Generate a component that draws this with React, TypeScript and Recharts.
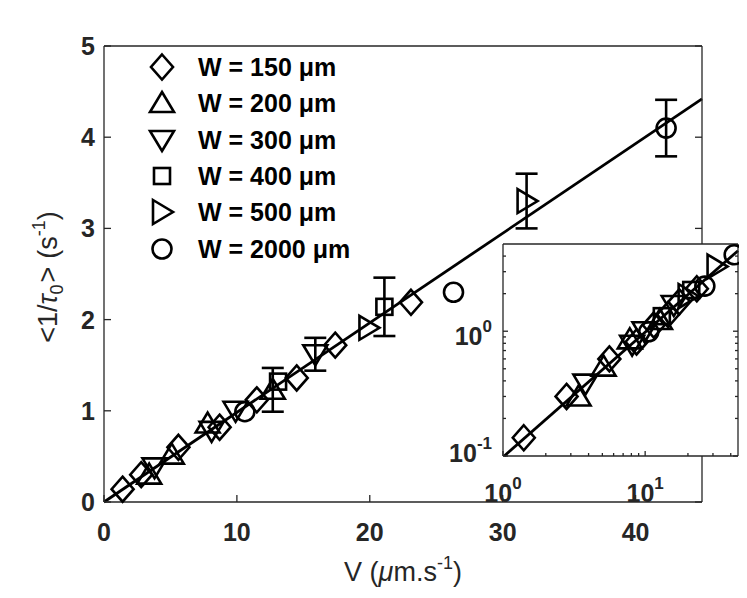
import React from "react";
import {
  ComposedChart,
  Scatter,
  Line,
  XAxis,
  YAxis,
  ErrorBar,
  CartesianGrid,
  Legend,
} from "recharts";

// V (um/s) and <1/tau0> (1/s) for each channel width
const w150V = [1.4, 2.8, 5.6, 8.7, 11.5, 14.5, 17.4, 23.1];
const w150Rate = [0.14, 0.3, 0.6, 0.82, 1.12, 1.36, 1.72, 2.19];
const w150Err = [null, null, null, null, null, null, null, null];

const w200V = [3.4, 5.1, 7.8, 12.7];
const w200Rate = [0.3, 0.52, 0.86, 1.23];
const w200Err = [null, null, null, 0.24];

const w300V = [3.8, 8.1, 9.9, 15.9];
const w300Rate = [0.38, 0.78, 1.0, 1.62];
const w300Err = [null, null, null, 0.18];

const w400V = [13.1, 21.1];
const w400Rate = [1.32, 2.14];
const w400Err = [null, 0.32];

const w500V = [19.9, 31.8];
const w500Rate = [1.91, 3.3];
const w500Err = [null, 0.3];

const w2000V = [10.6, 26.3, 42.3];
const w2000Rate = [0.99, 2.3, 4.1];
const w2000Err = [null, null, 0.31];

// linear fit through the origin
const fitV = [0, 45];
const fitRate = [0, 4.42];
const insetFitV = [1.02, 45];
const insetFitRate = [0.1, 4.42];

const mainVTicks = [0, 10, 20, 30, 40];
const mainRateTicks = [0, 1, 2, 3, 4, 5];
const insetVTicks = [1, 2, 3, 4, 5, 6, 7, 8, 9, 10, 20, 30, 40];
const insetRateTicks = [0.1, 0.2, 0.3, 0.4, 0.5, 0.6, 0.7, 0.8, 0.9, 1, 2, 3, 4];

type Kind = "diamond" | "up" | "down" | "square" | "right" | "circle";

const series: { name: string; kind: Kind; v: number[]; rate: number[]; err: (number | null)[] }[] = [
  { name: "W = 150 μm", kind: "diamond", v: w150V, rate: w150Rate, err: w150Err },
  { name: "W = 200 μm", kind: "up", v: w200V, rate: w200Rate, err: w200Err },
  { name: "W = 300 μm", kind: "down", v: w300V, rate: w300Rate, err: w300Err },
  { name: "W = 400 μm", kind: "square", v: w400V, rate: w400Rate, err: w400Err },
  { name: "W = 500 μm", kind: "right", v: w500V, rate: w500Rate, err: w500Err },
  { name: "W = 2000 μm", kind: "circle", v: w2000V, rate: w2000Rate, err: w2000Err },
];

const rowsOf = (v: number[], rate: number[], err?: (number | null)[]) =>
  v.map((x, i) => ({ v: x, rate: rate[i], err: err ? err[i] : null }));

const fitRows = rowsOf(fitV, fitRate);
const insetFitRows = rowsOf(insetFitV, insetFitRate);

const AXIS = "#262626";
const FONT = "'Liberation Sans', Arial, Helvetica, sans-serif";
const AXW = 1.3;

function Marker({ kind, cx, cy }: { kind: Kind; cx: number; cy: number }) {
  const st = { fill: "none", stroke: "#000", strokeWidth: 2.6 };
  if (kind === "circle") return <circle cx={cx} cy={cy} r={9.5} {...st} />;
  if (kind === "square") return <rect x={cx - 8} y={cy - 8} width={16} height={16} {...st} />;
  let pts: number[][];
  if (kind === "diamond") pts = [[0, -12.5], [11, 0], [0, 12.5], [-11, 0]];
  else if (kind === "up") pts = [[0, -11], [12, 9], [-12, 9]];
  else if (kind === "down") pts = [[0, 11], [12, -9], [-12, -9]];
  else pts = [[-9, -12], [11, 0], [-9, 12]];
  return <polygon points={pts.map(([dx, dy]) => `${cx + dx},${cy + dy}`).join(" ")} {...st} />;
}

const tickText = { fontFamily: FONT, fontWeight: "bold" as const, fontSize: 25, fill: AXIS };

function BottomTick(p: any) {
  const { x, y, payload } = p;
  return (
    <g>
      <line x1={x} y1={y} x2={x} y2={y - 7} stroke={AXIS} strokeWidth={AXW} />
      <text x={x} y={y + 39} textAnchor="middle" {...tickText}>
        {payload.value}
      </text>
    </g>
  );
}

function TopTick(p: any) {
  const { x, y } = p;
  return <line x1={x} y1={y} x2={x} y2={y + 7} stroke={AXIS} strokeWidth={AXW} />;
}

function LeftTick(p: any) {
  const { x, y, payload } = p;
  return (
    <g>
      <line x1={x} y1={y} x2={x + 7} y2={y} stroke={AXIS} strokeWidth={AXW} />
      <text x={x - 9} y={y + 9} textAnchor="end" {...tickText}>
        {payload.value}
      </text>
    </g>
  );
}

function RightTick(p: any) {
  const { x, y } = p;
  return <line x1={x} y1={y} x2={x - 7} y2={y} stroke={AXIS} strokeWidth={AXW} />;
}

const decade = (v: number) => Math.abs(Math.log10(v) - Math.round(Math.log10(v))) < 1e-6;

function InsetBottomTick(p: any) {
  const { x, y, payload } = p;
  const major = decade(payload.value);
  return (
    <g>
      <line x1={x} y1={y} x2={x} y2={y - (major ? 5 : 3)} stroke={AXIS} strokeWidth={AXW} />
      {major && (
        <text x={x} y={y + 46} textAnchor="middle" {...tickText}>
          10
          <tspan fontSize={17} dy={-13}>
            {Math.round(Math.log10(payload.value))}
          </tspan>
        </text>
      )}
    </g>
  );
}

function InsetTopTick(p: any) {
  const { x, y, payload } = p;
  const major = decade(payload.value);
  return <line x1={x} y1={y} x2={x} y2={y + (major ? 5 : 3)} stroke={AXIS} strokeWidth={AXW} />;
}

function InsetLeftTick(p: any) {
  const { x, y, payload } = p;
  const major = decade(payload.value);
  const e = Math.round(Math.log10(payload.value));
  return (
    <g>
      <line x1={x} y1={y} x2={x + (major ? 5 : 3)} y2={y} stroke={AXIS} strokeWidth={AXW} />
      {major && (
        <text x={x - 11} y={y + (e === 0 ? 14 : 6)} textAnchor="end" {...tickText}>
          10
          <tspan fontSize={17} dy={-13}>
            {e}
          </tspan>
        </text>
      )}
    </g>
  );
}

function InsetRightTick(p: any) {
  const { x, y, payload } = p;
  const major = decade(payload.value);
  return <line x1={x} y1={y} x2={x - (major ? 5 : 3)} y2={y} stroke={AXIS} strokeWidth={AXW} />;
}

const titleText = { fontFamily: FONT, fontSize: 27, fill: AXIS };

const XTitle = () => (
  <text x={395} y={573} textAnchor="middle" {...titleText}>
    V (<tspan fontStyle="italic">μ</tspan>m.s
    <tspan fontSize={18} dy={-12}>
      -1
    </tspan>
    <tspan dy={12}>)</tspan>
  </text>
);

const YTitle = () => (
  <text x={49} y={269} textAnchor="middle" transform="rotate(-90 49 269)" {...titleText}>
    {"<1/"}
    <tspan fontStyle="italic">τ</tspan>
    <tspan fontSize={18} dy={6}>
      0
    </tspan>
    <tspan dy={-6} dx={2}>
      {">"}
    </tspan>
    <tspan dx={8}>(s</tspan>
    <tspan fontSize={18} dy={-12}>
      -1
    </tspan>
    <tspan dy={12}>)</tspan>
  </text>
);

function LegendBox() {
  return (
    <div style={{ fontFamily: FONT, fontWeight: "bold", fontSize: 25, color: "#000" }}>
      {series.map((s) => (
        <div key={s.name} style={{ display: "flex", alignItems: "center", height: 36.3 }}>
          <svg width={30} height={36}>
            <Marker kind={s.kind} cx={15} cy={18} />
          </svg>
          <span style={{ marginLeft: 21, lineHeight: "36px", whiteSpace: "nowrap" }}>{s.name}</span>
        </div>
      ))}
    </div>
  );
}

function points(withErrors: boolean) {
  return series.map((s) => (
    <Scatter
      key={s.name}
      name={s.name}
      xAxisId="b"
      yAxisId="l"
      data={rowsOf(s.v, s.rate, s.err)}
      dataKey="rate"
      isAnimationActive={false}
      shape={(p: any) => <Marker kind={s.kind} cx={p.cx} cy={p.cy} />}
    >
      {withErrors && s.err.some((e) => e != null) && (
        <ErrorBar dataKey="err" direction="y" width={11} stroke="#000" strokeWidth={2.6} />
      )}
    </Scatter>
  ));
}

export default function App() {
  return (
    <div style={{ position: "relative", width: 731, height: 582 }}>
      <ComposedChart width={731} height={582} margin={{ top: 28, right: 27, bottom: 28, left: 36 }}>
        <XAxis
          xAxisId="b"
          dataKey="v"
          type="number"
          domain={[0, 45]}
          ticks={mainVTicks}
          interval={0}
          height={60}
          tickSize={0}
          tickMargin={0}
          tickLine={false}
          axisLine={{ stroke: AXIS, strokeWidth: AXW }}
          tick={<BottomTick />}
          label={() => <XTitle />}
        />
        <XAxis
          xAxisId="t"
          orientation="top"
          type="number"
          domain={[0, 45]}
          allowDataOverflow
          ticks={mainVTicks}
          interval={0}
          height={10}
          tickSize={0}
          tickMargin={0}
          tickLine={false}
          axisLine={{ stroke: AXIS, strokeWidth: AXW }}
          tick={<TopTick />}
        />
        <YAxis
          yAxisId="l"
          type="number"
          domain={[0, 5]}
          ticks={mainRateTicks}
          interval={0}
          width={60}
          tickSize={0}
          tickMargin={0}
          tickLine={false}
          axisLine={{ stroke: AXIS, strokeWidth: AXW }}
          tick={<LeftTick />}
          label={() => <YTitle />}
        />
        <YAxis
          yAxisId="r"
          orientation="right"
          type="number"
          domain={[0, 5]}
          allowDataOverflow
          ticks={mainRateTicks}
          interval={0}
          width={10}
          tickSize={0}
          tickMargin={0}
          tickLine={false}
          axisLine={{ stroke: AXIS, strokeWidth: AXW }}
          tick={<RightTick />}
        />
        <Line
          xAxisId="b"
          yAxisId="l"
          data={fitRows}
          dataKey="rate"
          type="linear"
          stroke="#000"
          strokeWidth={2.8}
          dot={false}
          activeDot={false}
          isAnimationActive={false}
        />
        {points(true)}
        <Legend
          layout="vertical"
          align="center"
          verticalAlign="middle"
          content={() => <LegendBox />}
          wrapperStyle={{ left: 139, top: 41, width: 260, height: 220 }}
        />
      </ComposedChart>

      <div style={{ position: "absolute", left: 432, top: 228 }}>
        <ComposedChart width={305} height={290} margin={{ top: 3, right: 2, bottom: 10, left: 3 }}>
          <CartesianGrid xAxisId="b" yAxisId="l" horizontal={false} vertical={false} fill="#fff" fillOpacity={1} />
          <XAxis
            xAxisId="b"
            dataKey="v"
            type="number"
            scale="log"
            domain={[1, 45]}
            ticks={insetVTicks}
            interval={0}
            height={60}
            tickSize={0}
            tickMargin={0}
            tickLine={false}
            axisLine={{ stroke: AXIS, strokeWidth: AXW }}
            tick={<InsetBottomTick />}
          />
          <XAxis
            xAxisId="t"
            orientation="top"
            type="number"
            scale="log"
            domain={[1, 45]}
            allowDataOverflow
            ticks={insetVTicks}
            interval={0}
            height={5}
            tickSize={0}
            tickMargin={0}
            tickLine={false}
            axisLine={{ stroke: AXIS, strokeWidth: AXW }}
            tick={<InsetTopTick />}
          />
          <YAxis
            yAxisId="l"
            type="number"
            scale="log"
            domain={[0.1, 5]}
            ticks={insetRateTicks}
            interval={0}
            width={60}
            tickSize={0}
            tickMargin={0}
            tickLine={false}
            axisLine={{ stroke: AXIS, strokeWidth: AXW }}
            tick={<InsetLeftTick />}
          />
          <YAxis
            yAxisId="r"
            orientation="right"
            type="number"
            scale="log"
            domain={[0.1, 5]}
            allowDataOverflow
            ticks={insetRateTicks}
            interval={0}
            width={5}
            tickSize={0}
            tickMargin={0}
            tickLine={false}
            axisLine={{ stroke: AXIS, strokeWidth: AXW }}
            tick={<InsetRightTick />}
          />
          <Line
            xAxisId="b"
            yAxisId="l"
            data={insetFitRows}
            dataKey="rate"
            type="linear"
            stroke="#000"
            strokeWidth={2.8}
            dot={false}
            activeDot={false}
            isAnimationActive={false}
          />
          {points(false)}
        </ComposedChart>
      </div>
    </div>
  );
}
